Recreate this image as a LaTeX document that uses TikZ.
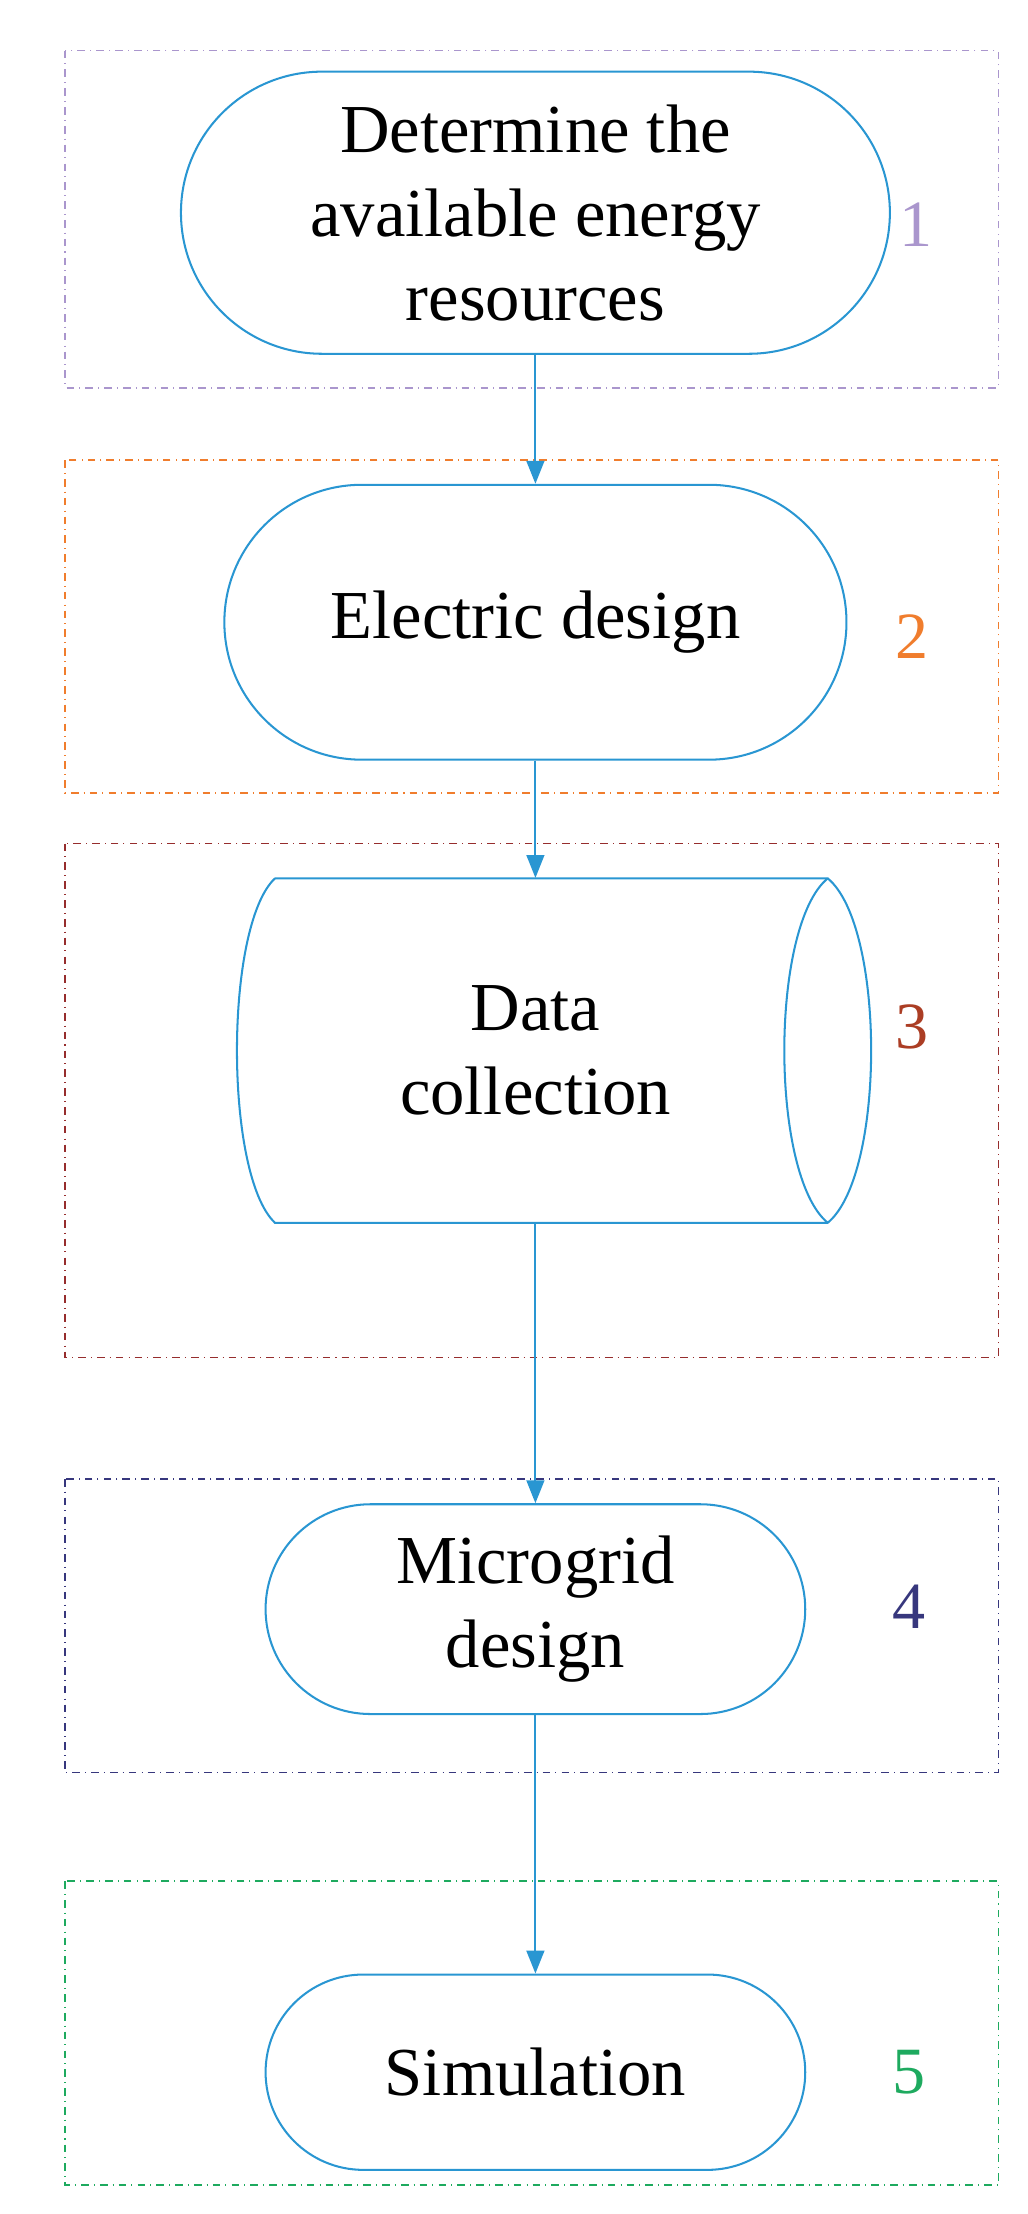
\documentclass[tikz,border=0pt]{standalone}
\usepackage{fontspec}
\setmainfont{Liberation Serif}
\usetikzlibrary{shapes.misc,arrows.meta}
\begin{document}
\begin{tikzpicture}[x=0.02cm,y=-0.02cm]
    % Define colors
    \definecolor{flowblue}{RGB}{41,150,210}
    \definecolor{stagelav}{RGB}{170,150,205}
    \definecolor{stageorange}{RGB}{240,125,45}
    \definecolor{stagered}{RGB}{150,45,45}
    \definecolor{stagenavy}{RGB}{55,55,125}
    \definecolor{stagegreen}{RGB}{30,170,95}
    \tikzset{
        flowstep/.style={rounded rectangle, draw=flowblue, line width=0.8pt, align=center,
            font=\fontsize{27}{33}\selectfont, inner sep=0pt},
        stage/.style={dash dot, line width=0.6pt},
        num/.style={font=\fontsize{26}{30}\selectfont},
        flow/.style={-{Triangle[length=9pt,width=7pt]}, draw=flowblue, line width=0.8pt}
    }
    \useasboundingbox (0,0) rectangle (710,1530);

    % Stage boxes
    \draw[stage, stagelav] (45,35) rectangle (690,268);
    \draw[stage, stageorange] (45,318) rectangle (690,548);
    \draw[stage, stagered] (45,583) rectangle (690,938);
    \draw[stage, stagenavy] (45,1022) rectangle (690,1225);
    \draw[stage, stagegreen] (45,1300) rectangle (690,1510);

    % Steps
    \node[flowstep, minimum width=9.8cm, minimum height=3.9cm] (det) at (370,147) {Determine the\\available energy\\resources};
    \node[flowstep, minimum width=8.6cm, minimum height=3.8cm] (elec) at (370,430) {Electric design};
    \node[minimum width=8.8cm, minimum height=4.76cm, align=center,
        font=\fontsize{27}{33}\selectfont] (data) at (370,726) {Data\\collection};
    \draw[flowblue, line width=0.8pt] (190,607) -- (572,607)
        .. controls (612,640) and (612,812) .. (572,845) -- (190,845)
        .. controls (155,812) and (155,640) .. (190,607);
    \draw[flowblue, line width=0.8pt] (572,607) .. controls (532,640) and (532,812) .. (572,845);
    \node[flowstep, minimum width=7.46cm, minimum height=2.9cm] (micro) at (370,1112) {Microgrid\\design};
    \node[flowstep, minimum width=7.46cm, minimum height=2.7cm] (sim) at (370,1432) {Simulation};

    % Stage numbers
    \node[num, stagelav] (n1) at (633,155) {1};
    \node[num, stageorange] (n2) at (630,440) {2};
    \node[num, stagered!80!orange] (n3) at (630,710) {3};
    \node[num, stagenavy] (n4) at (628,1110) {4};
    \node[num, stagegreen] (n5) at (628,1432) {5};

    % Connectors
    \draw[flow] (det.south) -- (elec.north);
    \draw[flow] (elec.south) -- (data.north);
    \draw[flow] (data.south) -- (micro.north);
    \draw[flow] (micro.south) -- (sim.north);
\end{tikzpicture}
\end{document}
